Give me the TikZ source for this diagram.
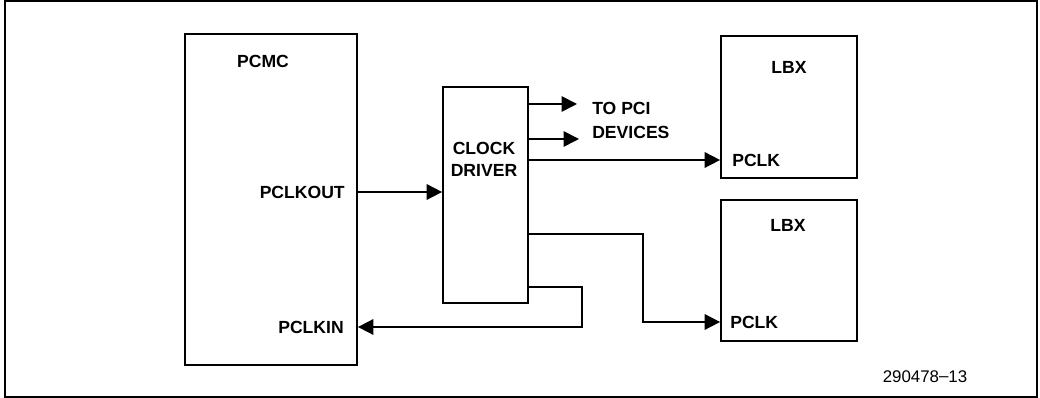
\documentclass[tikz,border=0pt]{standalone}
\usepackage{fontspec}
\setmainfont{Liberation Sans}
\usetikzlibrary{arrows.meta}
\begin{document}
\begin{tikzpicture}[x=0.025cm,y=-0.025cm,
  blk/.style={draw,line width=1.2pt,inner sep=0pt,rectangle},
  lbl/.style={inner sep=0pt,font=\fontsize{12.5}{14}\selectfont\bfseries},
  conn/.style={line width=1.2pt,-{Triangle[length=11pt,width=11pt]}},
  plain/.style={line width=1pt}]
\useasboundingbox (0,0) rectangle (1040,398);
\draw[line width=1pt] (5,1) rectangle (1037,397);
% boxes
\node[blk,minimum width=4.3cm,minimum height=8.275cm] (pcmc) at (271,199.5) {};
\node[blk,minimum width=2.125cm,minimum height=5.4cm] (cd) at (485.5,195) {};
\node[blk,minimum width=3.4cm,minimum height=3.55cm] (lbxa) at (789,107) {};
\node[blk,minimum width=3.4cm,minimum height=3.525cm] (lbxb) at (789,270.5) {};
% labels
\node[lbl] (tpcmc) at (263,61) {PCMC};
\node[lbl,anchor=east] (tout) at (345,192) {PCLKOUT};
\node[lbl,anchor=east] (tin) at (344,327) {PCLKIN};
\node[lbl,align=center,font=\fontsize{12.5}{15.6}\selectfont\bfseries] (tcd) at (484,159) {CLOCK\\DRIVER};
\node[lbl,anchor=west] (tpci) at (592,108) {TO PCI};
\node[lbl,anchor=west] (tdev) at (592,132) {DEVICES};
\node[lbl] (tlbxa) at (789,67) {LBX};
\node[lbl,anchor=west] (tpa) at (732,160) {PCLK};
\node[lbl] (tlbxb) at (788,225) {LBX};
\node[lbl,anchor=west] (tpb) at (730,322) {PCLK};
\node[inner sep=0pt,font=\fontsize{12}{14}\selectfont] (fig) at (925,377) {290478\raisebox{0.1ex}{–}13};
% connector helper coordinates
\coordinate (y192) at (0,192);
\coordinate (y104) at (0,104);
\coordinate (y139) at (0,139);
\coordinate (y160) at (0,160);
\coordinate (y234) at (0,234);
\coordinate (y322) at (0,322);
\coordinate (y287) at (0,287);
\coordinate (y327) at (0,327);
\coordinate (e1) at (577,104);
\coordinate (e2) at (579,139);
\coordinate (b4) at (643,234);
\coordinate (b5) at (582,287);
% connectors
\draw[conn] (pcmc.east |- y192) -- (cd.west |- y192);
\draw[conn] (cd.east |- y104) -- (e1);
\draw[conn] (cd.east |- y139) -- (e2);
\draw[conn] (cd.east |- y160) -- (lbxa.west |- y160);
\draw[conn] (cd.east |- y234) -- (b4) |- (lbxb.west |- y322);
\draw[conn] (cd.east |- y287) -- (b5) |- (pcmc.east |- y327);
\end{tikzpicture}
\end{document}
